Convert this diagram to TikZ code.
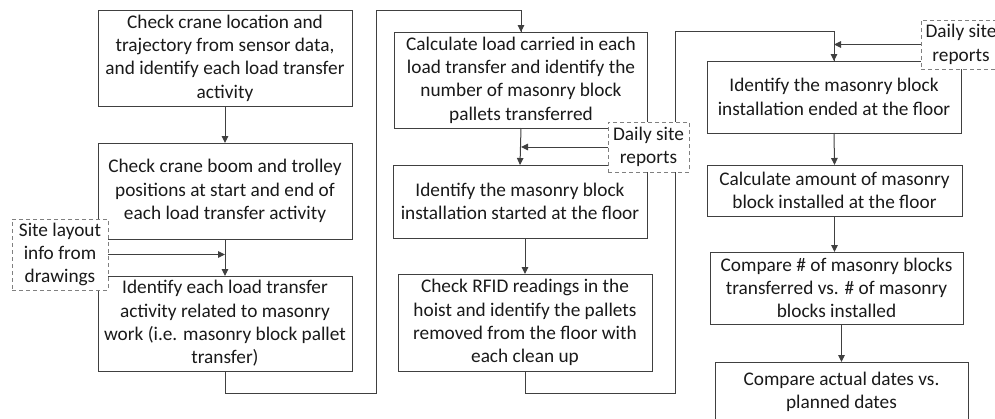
\documentclass[tikz,border=0pt]{standalone}
\usepackage{fontspec}
\setmainfont{Carlito}
\usetikzlibrary{arrows.meta}
\definecolor{ln}{HTML}{404040}
\definecolor{dsh}{HTML}{808080}
\definecolor{txt}{HTML}{1A1A1A}
\begin{document}
\begin{tikzpicture}[x=1pt,y=-1pt,
  every node/.style={inner sep=0pt,outer sep=0pt,text=txt,align=center,
     font=\fontsize{19.3}{23.3}\selectfont},
  box/.style={draw=ln,line width=1pt,fill=white,minimum width=#1},
  box/.default=254pt,
  src/.style={draw=dsh,line width=1pt,dash pattern=on 4pt off 3pt,fill=white,minimum width=80pt,minimum height=50pt},
  conn/.style={draw=ln,line width=1pt},
  arr/.style={conn,-{Triangle[length=7pt,width=6.5pt]}}]
\useasboundingbox (0,0) rectangle (995,418);
% column 1
\node[box,minimum height=96pt] (b1) at (225,58) {Check crane location and\\trajectory from sensor data,\\and identify each load transfer\\activity};
\node[box,minimum height=96pt] (b2) at (225,191) {Check crane boom and trolley\\positions at start and end of\\each load transfer activity};
\node[box,minimum height=95pt] (b3) at (225,323.5) {Identify each load transfer\\activity related to masonry\\work (i.e. masonry block pallet\\transfer)};
% column 2
\node[box=253pt,minimum height=96pt] (b4) at (521,80) {Calculate load carried in each\\load transfer and identify the\\number of masonry block\\pallets transferred};
\node[box,minimum height=73pt] (b5) at (520,201.5) {Identify the masonry block\\installation started at the floor};
\node[box,minimum height=97pt] (b6) at (525,322.5) {Check RFID readings in the\\hoist and identify the pallets\\removed from the floor with\\each clean up};
% column 3
\node[box,minimum height=72pt] (b7) at (834,97) {Identify the masonry block\\installation ended at the floor};
\node[box=255pt,minimum height=51pt] (b8) at (834.5,190.5) {Calculate amount of masonry\\block installed at the floor};
\node[box=253pt,minimum height=72pt] (b9) at (836.5,288) {Compare \# of masonry blocks\\transferred vs. \# of masonry\\blocks installed};
\node[box=253pt,minimum height=60pt] (b10) at (841.5,392) {Compare actual dates vs.\\planned dates};
% connectors
\coordinate (r1) at (376,393);
\coordinate (r1t) at (376,10);
\coordinate (r2) at (675,393);
\coordinate (r2t) at (675,31);
\draw[arr] (b1.south) -- (b2.north);
\draw[arr] (b2.south) -- (b3.north);
\draw[conn] (b3.south) |- (r1) -- (r1t) -| (b4.north);
\draw[arr] (r1t -| b4.north) -- (b4.north);
\draw[arr] (b4.south) -- (b5.north);
\draw[arr] (b5.south -| b6.north) -- (b6.north);
\draw[conn] (b6.south) |- (r2) -- (r2t) -| (b7.north);
\draw[arr] (r2t -| b7.north) -- (b7.north);
\draw[arr] (b7.south) -- (b8.north);
\draw[arr] (b8.south) -- (b8.south |- b9.north);
\draw[arr] (b9.south -| b10.north) -- (b10.north);
% dashed sources
\node[src,minimum width=96pt,minimum height=71pt] (d0) at (60,254.5) {Site layout\\info from\\drawings};
\node[src,minimum width=81pt] (d1) at (648.5,147) {Daily site\\reports};
\node[src,minimum width=80pt,minimum height=49pt] (d2) at (961,44.5) {Daily site\\reports};
\draw[arr] (d0.east) -- (d0.east -| b2.south);
\draw[arr] (d1.west) -- (d1.west -| b4.south);
\draw[arr] (d2.west) -- (d2.west -| b7.north);
\end{tikzpicture}
\end{document}
